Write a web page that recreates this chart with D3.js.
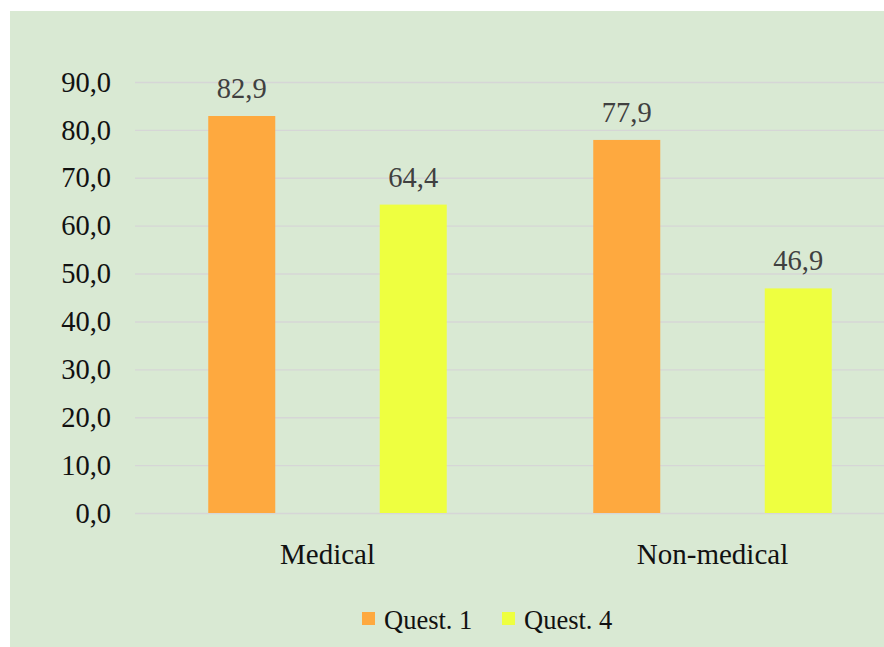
<!DOCTYPE html>
<html>
<head>
<meta charset="utf-8">
<script src="https://cdn.jsdelivr.net/npm/d3@7"></script>
<style>
  body { margin: 0; background: #fff; }
  svg { display: block; }
</style>
</head>
<body>
<div id="chart"></div>
<script>
// Data
const categories = ['Medical', 'Non-medical'];
const seriesNames = ['Quest. 1', 'Quest. 4'];
const quest1 = [82.9, 77.9];
const quest4 = [64.4, 46.9];
const yTicks = [0, 10, 20, 30, 40, 50, 60, 70, 80, 90];

const seriesColors = ['#fea93f', '#eeff40'];
const serif = "'Liberation Serif', 'Times New Roman', serif";

const config = {
  width: 884,
  height: 647,
  panel: { x: 10, y: 11 },
  plot: { left: 135, right: 905, top: 82, bottom: 513 },
  barWidth: 67
};

const rows = categories.map((c, i) => ({
  category: c,
  values: [
    { series: seriesNames[0], value: quest1[i] },
    { series: seriesNames[1], value: quest4[i] }
  ]
}));

const svg = d3.select('#chart').append('svg')
  .attr('width', config.width)
  .attr('height', config.height)
  .attr('font-family', serif);

// Light green panel behind the chart
svg.append('rect')
  .attr('x', config.panel.x)
  .attr('y', config.panel.y)
  .attr('width', config.width)
  .attr('height', config.height)
  .attr('fill', '#d9e9d3');

// Scales
const x0 = d3.scaleBand()
  .domain(categories)
  .range([config.plot.left, config.plot.right])
  .padding(0);

const x1 = d3.scaleBand()
  .domain(seriesNames)
  .range([21, x0.bandwidth() - 21]);

const yScale = d3.scaleLinear()
  .domain([0, 90])
  .range([config.plot.bottom, config.plot.top]);

const color = d3.scaleOrdinal()
  .domain(seriesNames)
  .range(seriesColors);

const fmt = d => d3.format('.1f')(d).replace('.', ',');

// Y axis: gridlines + labels
const yAxis = d3.axisLeft(yScale)
  .tickValues(yTicks)
  .tickFormat(fmt)
  .tickSize(-(config.plot.right - config.plot.left))
  .tickPadding(24);

const yAxisG = svg.append('g')
  .attr('class', 'y-axis')
  .attr('transform', `translate(${config.plot.left},0)`)
  .call(yAxis)
  .attr('font-family', serif);

yAxisG.select('.domain').remove();
yAxisG.selectAll('.tick line')
  .attr('stroke', '#d6d6d6')
  .attr('stroke-width', 1.4);
yAxisG.selectAll('.tick text')
  .attr('fill', '#111')
  .attr('font-size', 28.5);

// Bars
const group = svg.append('g').attr('class', 'bars')
  .selectAll('.category')
  .data(rows)
  .join('g')
  .attr('class', 'category')
  .attr('transform', d => `translate(${x0(d.category)},0)`);

const barX = d => x1(d.series) + x1.bandwidth() / 2 - config.barWidth / 2;

group.selectAll('rect')
  .data(d => d.values)
  .join('rect')
  .attr('x', barX)
  .attr('y', d => yScale(d.value))
  .attr('width', config.barWidth)
  .attr('height', d => yScale(0) - yScale(d.value))
  .attr('fill', d => color(d.series));

// Value labels
group.selectAll('.value-label')
  .data(d => d.values)
  .join('text')
  .attr('class', 'value-label')
  .attr('x', d => x1(d.series) + x1.bandwidth() / 2)
  .attr('y', d => yScale(d.value) - 18)
  .attr('text-anchor', 'middle')
  .attr('fill', '#404040')
  .attr('font-size', 28.5)
  .text(d => fmt(d.value));

// Category labels
svg.append('g').attr('class', 'x-labels')
  .selectAll('text')
  .data(categories)
  .join('text')
  .attr('x', d => x0(d) + x0.bandwidth() / 2)
  .attr('y', 564)
  .attr('text-anchor', 'middle')
  .attr('fill', '#111')
  .attr('font-size', 29)
  .text(d => d);

// Legend
const legendItems = [
  { name: seriesNames[0], x: 362 },
  { name: seriesNames[1], x: 502 }
];
const legend = svg.append('g').attr('class', 'legend')
  .selectAll('g')
  .data(legendItems)
  .join('g')
  .attr('transform', d => `translate(${d.x},612)`);

legend.append('rect')
  .attr('width', 13)
  .attr('height', 13)
  .attr('fill', d => color(d.name));

legend.append('text')
  .attr('x', 22)
  .attr('y', 17)
  .attr('fill', '#111')
  .attr('font-size', 26.5)
  .text(d => d.name);
</script>
</body>
</html>
